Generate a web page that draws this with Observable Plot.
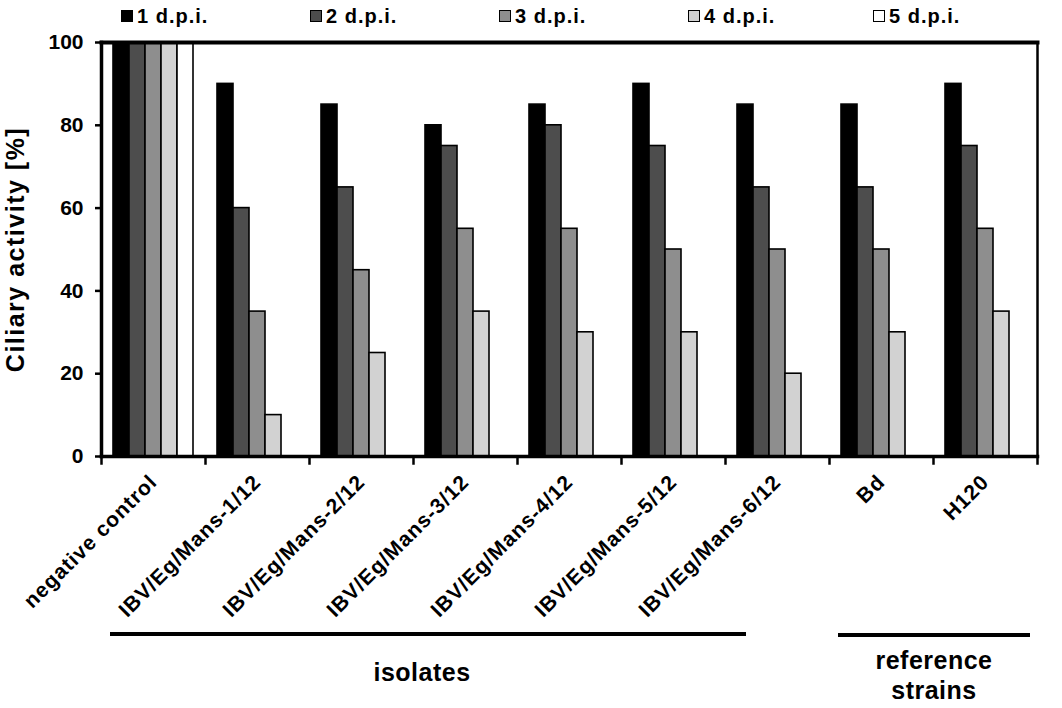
<!DOCTYPE html>
<html><head><meta charset="utf-8">
<script src="https://cdn.jsdelivr.net/npm/d3@7"></script>
<script src="https://cdn.jsdelivr.net/npm/@observablehq/plot@0.6"></script>
<style>
body{margin:0;background:#fff;font-family:"Liberation Sans",Arial,sans-serif;font-weight:bold;}
#wrap{position:relative;width:1062px;height:708px;overflow:hidden;}
#legend{position:absolute;left:0;top:0;height:22px;width:1062px;z-index:2;}
.item{position:absolute;top:4px;font-size:20px;line-height:24px;display:flex;align-items:center;white-space:nowrap;letter-spacing:1px;}
.sw{width:10px;height:10px;border:1.5px solid #000;margin-right:4px;}
#chart{position:absolute;left:0;top:22px;z-index:1;}
.bracket{position:absolute;height:4px;background:#000;}
.blabel{position:absolute;font-size:25px;text-align:center;line-height:30px;letter-spacing:0.5px;}
#chart [aria-label="y-axis label"] text{font-size:25px;letter-spacing:1.5px;}
#chart [aria-label="fx-axis tick label"] text{letter-spacing:1px;}
</style>
</head><body>
<div id="wrap">
  <div id="legend"></div>
  <div id="chart"></div>
  <div class="bracket" style="left:110px;width:636px;top:632px;"></div>
  <div class="bracket" style="left:838px;width:192px;top:633px;"></div>
  <div class="blabel" style="left:322px;width:200px;top:657px;">isolates</div>
  <div class="blabel" style="left:834px;width:200px;top:645px;">reference<br>strains</div>
</div>
<script>
const groups = ["negative control","IBV/Eg/Mans-1/12","IBV/Eg/Mans-2/12","IBV/Eg/Mans-3/12","IBV/Eg/Mans-4/12","IBV/Eg/Mans-5/12","IBV/Eg/Mans-6/12","Bd","H120"];
const series = ["1 d.p.i.","2 d.p.i.","3 d.p.i.","4 d.p.i.","5 d.p.i."];
const seriesColors = ["#000000","#4d4d4d","#8e8e8e","#d2d2d2","#ffffff"];
const dpi1 = [100,90,85,80,85,90,85,85,90];
const dpi2 = [100,60,65,75,80,75,65,65,75];
const dpi3 = [100,35,45,55,55,50,50,50,55];
const dpi4 = [100,10,25,35,30,30,20,30,35];
const dpi5 = [100,0,0,0,0,0,0,0,0];
const yTicks = [0,20,40,60,80,100];
const legendLeft = [121,310,499,688,873];

const valuesBySeries = [dpi1,dpi2,dpi3,dpi4,dpi5];
const table = [];
groups.forEach((g,gi)=>series.forEach((s,si)=>table.push({group:g,series:s,value:valuesBySeries[si][gi]})));

// legend
const leg = document.getElementById("legend");
series.forEach((s,i)=>{
  const it = document.createElement("div");
  it.className="item"; it.style.left=legendLeft[i]+"px";
  it.innerHTML = `<span class="sw" style="background:${seriesColors[i]}"></span><span>${s}</span>`;
  leg.appendChild(it);
});

const H = 600, MT = 20, MB = 166;
const plotH = H - MT - MB;
const chart = Plot.plot({
  width:1062, height:H, marginTop:MT, marginBottom:MB, marginLeft:98, marginRight:22,
  style:{fontFamily:"'Liberation Sans',Arial,sans-serif", fontWeight:"bold", background:"transparent"},
  fx:{domain:groups, padding:0, label:null},
  x:{domain:series, paddingInner:0, paddingOuter:0.69, axis:null},
  y:{domain:[0,100]},
  color:{domain:series, range:seriesColors},
  marks:[
    Plot.barY(table,{fx:"group", x:"series", y:"value", fill:"series", stroke:"#000", strokeWidth:1.6}),
    Plot.axisY({ticks:yTicks, tickSize:6, tickPadding:12, fontSize:21, strokeWidth:2.5, label:"Ciliary activity [%]", labelArrow:"none", labelAnchor:"center", labelOffset:95}),
    Plot.axisFx({anchor:"bottom", tickRotate:-45, tickSize:0, tickPadding:22, fontSize:21, label:null}),
    Plot.frame({anchor:"left", insetTop:plotH, insetBottom:-7, strokeWidth:2.5}),
    Plot.frame({facet:"super", anchor:"top", strokeWidth:4}),
    Plot.frame({facet:"super", anchor:"right", insetBottom:-7, strokeWidth:2.5}),
    Plot.frame({facet:"super", anchor:"left", strokeWidth:3.5}),
    Plot.frame({facet:"super", anchor:"bottom", strokeWidth:3.5})
  ]
});
document.getElementById("chart").appendChild(chart);
</script>
</body></html>
